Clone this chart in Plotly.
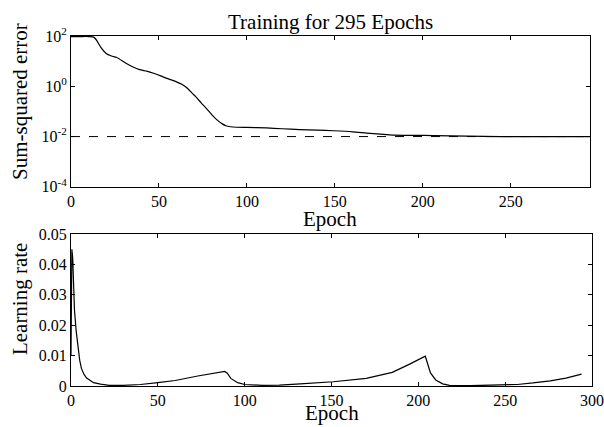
import plotly.graph_objects as go
from plotly.subplots import make_subplots

# ---- data ----
sse_epochs = [0, 5, 10, 13, 15, 17, 20, 23, 26, 31, 35, 39, 43, 47, 51, 54, 57,
              60, 63, 66, 69, 71, 74, 77, 80, 83, 86, 88, 92, 100, 111, 120, 130,
              140, 149, 160, 168, 176, 183, 195, 206, 225, 244, 270, 295]
sse_values = [95, 95, 95, 90, 60, 35, 20, 16, 14, 8.5, 6.0, 4.6, 4.0, 3.3, 2.6,
              2.1, 1.8, 1.5, 1.2, 0.85, 0.52, 0.38, 0.22, 0.13, 0.075, 0.046,
              0.032, 0.027, 0.024, 0.023, 0.022, 0.0205, 0.019, 0.018, 0.017,
              0.0155, 0.0138, 0.0125, 0.0115, 0.0112, 0.011, 0.0105, 0.0100,
              0.0099, 0.0099]
goal_epochs = [0, 295]
goal_values = [0.01, 0.01]

lr_epochs = [0, 0.5, 1, 2, 3, 4, 5, 6, 7.5, 9, 11, 13, 17, 22, 30, 40, 50, 60,
             73, 80, 88.5, 90, 92, 96, 100, 110, 120, 132, 151, 170, 185, 195,
             204, 207, 210, 214, 218, 230, 245, 257, 266, 276, 285, 294]
lr_values = [0.01, 0.045, 0.042, 0.025, 0.018, 0.012, 0.0085, 0.0058, 0.0038,
             0.0026, 0.0017, 0.0011, 0.0006, 0.0002, 0.0002, 0.0005, 0.0011,
             0.0018, 0.0033, 0.004, 0.0048, 0.0042, 0.0025, 0.0011, 0.0005,
             0.0002, 0.0003, 0.0007, 0.0014, 0.0025, 0.0045, 0.0072, 0.0098,
             0.0043, 0.002, 0.0007, 0.0002, 0.0001, 0.0002, 0.0005, 0.001,
             0.0017, 0.0026, 0.0039]

top_xticks = [0, 50, 100, 150, 200, 250]
bot_xticks = [0, 50, 100, 150, 200, 250, 300]
sse_ticks = [1e-4, 1e-2, 1, 1e2]
sse_ticktext = ["10<sup>-4</sup>", "10<sup>-2</sup>", "10<sup>0</sup>", "10<sup>2</sup>"]
lr_ticks = [0, 0.01, 0.02, 0.03, 0.04, 0.05]
lr_ticktext = ["0", "0.01", "0.02", "0.03", "0.04", "0.05"]

FONT = "Liberation Serif"

fig = make_subplots(rows=2, cols=1)

fig.add_trace(go.Scatter(x=sse_epochs, y=sse_values, mode="lines",
                         line=dict(color="black", width=1.2, shape="spline", smoothing=0.6),
                         showlegend=False),
              row=1, col=1)
fig.add_trace(go.Scatter(x=goal_epochs, y=goal_values, mode="lines",
                         line=dict(color="black", width=1, dash="dash"), showlegend=False),
              row=1, col=1)
fig.add_trace(go.Scatter(x=lr_epochs, y=lr_values, mode="lines",
                         line=dict(color="black", width=1.2), showlegend=False),
              row=2, col=1)

axis_common = dict(showline=True, linecolor="black", linewidth=1, mirror="ticks",
                   ticks="inside", ticklen=4, tickcolor="black", showgrid=False,
                   zeroline=False, automargin=False, ticklabeloverflow="allow",
                   tickfont=dict(family=FONT, size=16, color="black"))

fig.update_xaxes(domain=[0, 0.996], range=[0, 295], tickvals=top_xticks,
                 **axis_common, row=1, col=1)
fig.update_xaxes(domain=[0, 1], range=[0, 300], tickvals=bot_xticks,
                 **axis_common, row=2, col=1)
fig.update_yaxes(domain=[0.569, 1], type="log", range=[-4, 2], tickvals=sse_ticks,
                 ticktext=sse_ticktext, **axis_common, row=1, col=1)
fig.update_yaxes(domain=[0, 0.434], range=[0, 0.05], tickvals=lr_ticks,
                 ticktext=lr_ticktext, **axis_common, row=2, col=1)

tfont = dict(family=FONT, size=21, color="black")
fig.update_layout(
    width=604, height=427,
    margin=dict(l=71, r=12, t=36, b=41, autoexpand=False),
    paper_bgcolor="white", plot_bgcolor="white",
    annotations=[
        dict(text="Training for 295 Epochs", x=0.498, y=1.04, xref="paper", yref="paper",
             showarrow=False, font=tfont, xanchor="center", yanchor="middle"),
        dict(text="Epoch", x=0.498, y=0.477, xref="paper", yref="paper",
             showarrow=False, font=tfont, xanchor="center", yanchor="middle"),
        dict(text="Epoch", x=0.5, y=-0.117, xref="paper", yref="paper",
             showarrow=False, font=tfont, xanchor="center", yanchor="bottom"),
        dict(text="Sum-squared error", x=-0.098, y=0.814, xref="paper", yref="paper",
             showarrow=False, font=tfont, textangle=-90, xanchor="center", yanchor="middle"),
        dict(text="Learning rate", x=-0.098, y=0.251, xref="paper", yref="paper",
             showarrow=False, font=tfont, textangle=-90, xanchor="center", yanchor="middle"),
    ],
)

fig.write_html("out.html", config={"displayModeBar": False},
               post_script="document.body.style.margin='0';document.body.style.overflow='hidden';")
